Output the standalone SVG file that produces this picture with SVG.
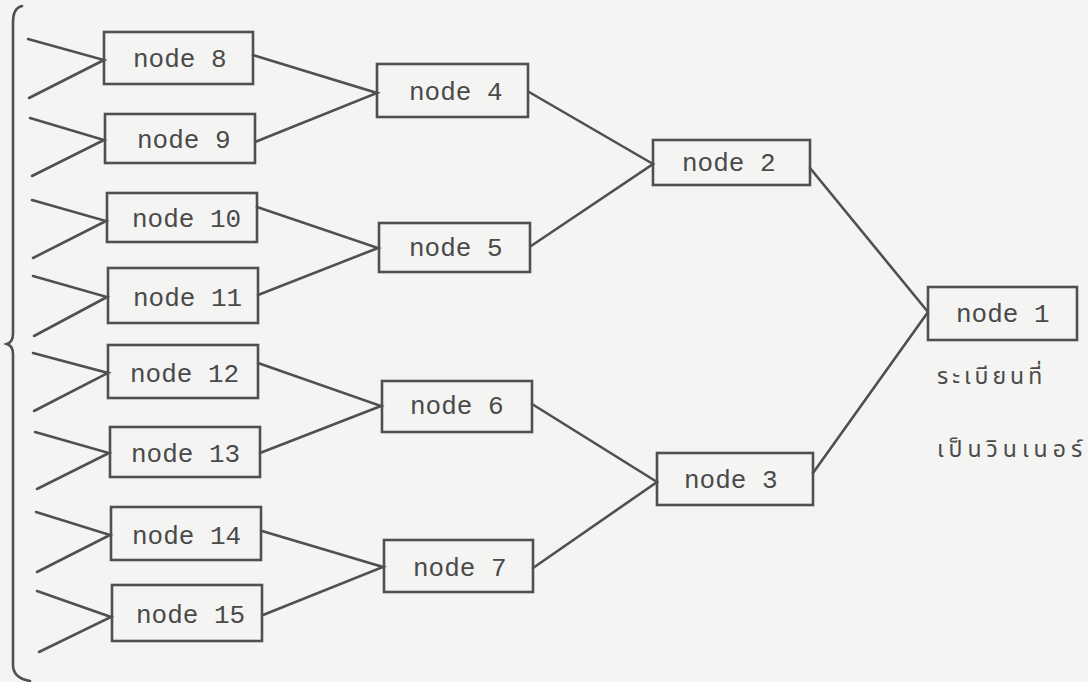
<svg xmlns="http://www.w3.org/2000/svg" width="1088" height="682" viewBox="0 0 1088 682">
<style>
.box{fill:none;stroke:#505050;stroke-width:2.6}
.ln{fill:none;stroke:#505050;stroke-width:2.6;stroke-linecap:round}
.t{font-family:"Liberation Mono","Courier New",monospace;font-size:26px;fill:#4a4a4a}
.th{font-family:"Noto Sans Thai","Noto Sans","DejaVu Sans",sans-serif;font-size:23px;fill:#4a4a4a}
</style>
<rect width="1088" height="682" fill="#f4f4f2"/>
<g id="connectors">
<path class="ln" d="M22,6 Q13,8 13,22 L13,334 Q13,342 7,344 Q13,346 13,354 L13,665 Q13,678 30,681"/>
<path class="ln" d="M28,39 L104,60 L29,98"/>
<path class="ln" d="M30,118 L104,140 L32,176"/>
<path class="ln" d="M32,200 L106,221 L33,258"/>
<path class="ln" d="M33,276 L107,297 L34,336"/>
<path class="ln" d="M33,353 L108,373 L34,411"/>
<path class="ln" d="M35,432 L109,453 L37,489"/>
<path class="ln" d="M36,512 L110,535 L37,572"/>
<path class="ln" d="M37,591 L111,617 L39,652"/>
<path class="ln" d="M253,55 L377,93 L255,142"/>
<path class="ln" d="M257,207 L378,248 L258,295"/>
<path class="ln" d="M258,363 L381,406 L260,453"/>
<path class="ln" d="M262,531 L383,567 L263,615"/>
<path class="ln" d="M529,92 L653,164 L531,246"/>
<path class="ln" d="M532,404 L657,482 L533,568"/>
<path class="ln" d="M810,168 L928,312 L813,473"/>
</g>
<g id="node8"><rect class="box" x="104" y="32" width="149" height="52"/><text class="t" x="133" y="67">node 8</text></g>
<g id="node9"><rect class="box" x="105" y="114" width="150" height="49"/><text class="t" x="137" y="148">node 9</text></g>
<g id="node10"><rect class="box" x="107" y="193" width="150" height="49"/><text class="t" x="132" y="227">node 10</text></g>
<g id="node11"><rect class="box" x="108" y="268" width="150" height="55"/><text class="t" x="133" y="306">node 11</text></g>
<g id="node12"><rect class="box" x="108" y="345" width="150" height="53"/><text class="t" x="130" y="382">node 12</text></g>
<g id="node13"><rect class="box" x="110" y="427" width="150" height="50"/><text class="t" x="131" y="462">node 13</text></g>
<g id="node14"><rect class="box" x="111" y="507" width="150" height="53"/><text class="t" x="132" y="544">node 14</text></g>
<g id="node15"><rect class="box" x="112" y="585" width="150" height="56"/><text class="t" x="136" y="623">node 15</text></g>
<g id="node4"><rect class="box" x="377" y="64" width="151" height="53"/><text class="t" x="409" y="100">node 4</text></g>
<g id="node5"><rect class="box" x="379" y="223" width="151" height="49"/><text class="t" x="409" y="256">node 5</text></g>
<g id="node6"><rect class="box" x="382" y="381" width="150" height="51"/><text class="t" x="410" y="414">node 6</text></g>
<g id="node7"><rect class="box" x="384" y="540" width="149" height="52"/><text class="t" x="413" y="576">node 7</text></g>
<g id="node2"><rect class="box" x="653" y="140" width="157" height="45"/><text class="t" x="682" y="171">node 2</text></g>
<g id="node3"><rect class="box" x="657" y="453" width="156" height="52"/><text class="t" x="684" y="488">node 3</text></g>
<g id="node1"><rect class="box" x="928" y="287" width="149" height="53"/><text class="t" x="956" y="322">node 1</text></g>
<g id="label"><text class="th" x="937" y="384" letter-spacing="4">ระเบียนที่</text><text class="th" x="937" y="457" letter-spacing="5">เป็นวินเนอร์</text></g>
</svg>
